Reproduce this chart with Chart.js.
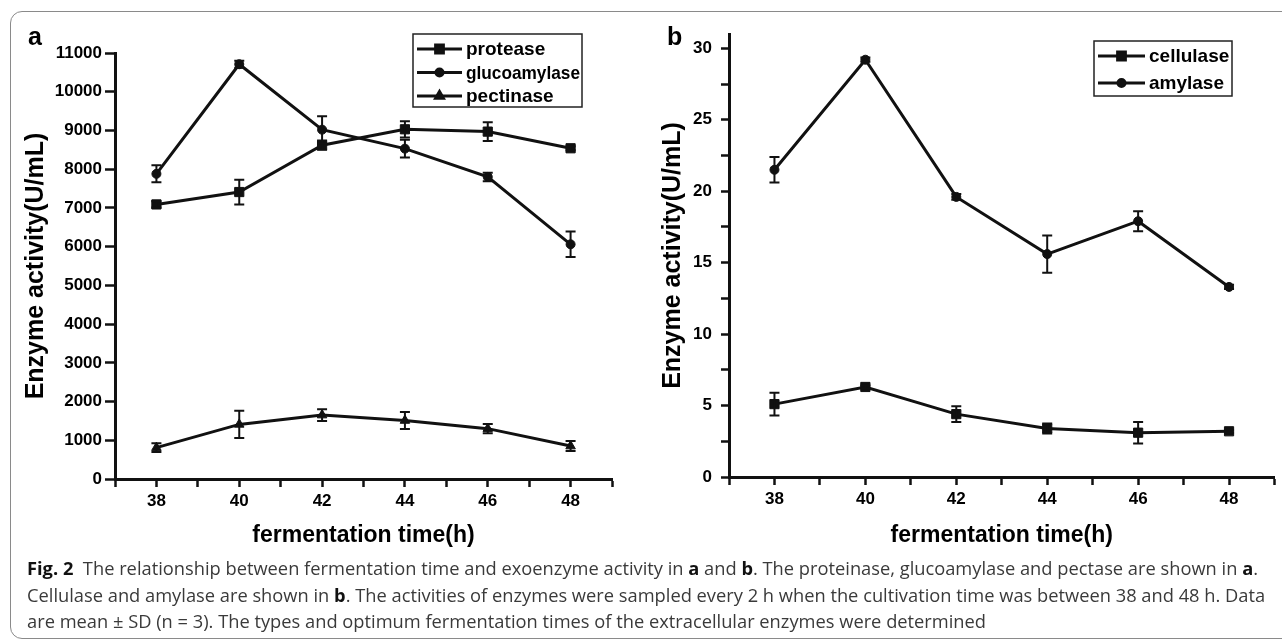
<!DOCTYPE html>
<html>
<head>
<meta charset="utf-8">
<script src="https://cdn.jsdelivr.net/npm/chart.js@4.4.1/dist/chart.umd.min.js"></script>
<style>
  html, body { margin: 0; padding: 0; background: #fff; overflow: hidden; width: 1282px; height: 641px; }
  #frame { position: absolute; left: 10px; top: 11px; width: 1300px; height: 626px; border: 1.5px solid #8a8a8a; border-radius: 12px; }
  #chartA { position: absolute; left: 0; top: 0; }
  #chartB { position: absolute; left: 640px; top: 0; }
  .panel { position: absolute; font: bold 25px "Liberation Sans", Arial, sans-serif; color: #000; }
  #caption { position: absolute; left: 27px; top: 555px; font: 18.3px "Open Sans", sans-serif; color: #3a3a3a; line-height: 26.5px; white-space: nowrap; }
  #caption b { color: #111; }
</style>
</head>
<body>
<div id="frame"></div>
<canvas id="chartA" width="640" height="560"></canvas>
<canvas id="chartB" width="642" height="560"></canvas>
<div class="panel" style="left:28px; top:22px;">a</div>
<div class="panel" style="left:667px; top:22px;">b</div>
<div id="caption"><b>Fig. 2</b>&nbsp; The relationship between fermentation time and exoenzyme activity in <b>a</b> and <b>b</b>. The proteinase, glucoamylase and pectase are shown in <b>a</b>.<br>Cellulase and amylase are shown in <b>b</b>. The activities of enzymes were sampled every 2 h when the cultivation time was between 38 and 48 h. Data<br>are mean ± SD (n = 3). The types and optimum fermentation times of the extracellular enzymes were determined</div>

<script>
// sampling times (h)
const hours = [38, 40, 42, 44, 46, 48];

// panel a (U/mL)
const protease = [7090, 7410, 8620, 9030, 8970, 8540];
const proteaseSD = [80, 320, 120, 210, 240, 50];
const glucoamylase = [7880, 10710, 9020, 8530, 7800, 6060];
const glucoamylaseSD = [220, 90, 350, 230, 110, 330];
const pectinase = [810, 1410, 1650, 1510, 1300, 850];
const pectinaseSD = [110, 350, 150, 220, 120, 130];

// panel b (U/mL)
const cellulase = [5.1, 6.3, 4.4, 3.4, 3.1, 3.2];
const cellulaseSD = [0.8, 0.1, 0.55, 0.35, 0.75, 0.1];
const amylase = [21.5, 29.2, 19.6, 15.6, 17.9, 13.3];
const amylaseSD = [0.9, 0.15, 0.2, 1.3, 0.7, 0.15];

// axis ticks
const xTicks = [37, 38, 39, 40, 41, 42, 43, 44, 45, 46, 47, 48, 49];
const xTickLabels = ['', '38', '', '40', '', '42', '', '44', '', '46', '', '48', ''];
const yTicksA = [0, 1000, 2000, 3000, 4000, 5000, 6000, 7000, 8000, 9000, 10000, 11000];
const yTickLabelsA = ['0', '1000', '2000', '3000', '4000', '5000', '6000', '7000', '8000', '9000', '10000', '11000'];
const yTicksB = [0, 2.5, 5, 7.5, 10, 12.5, 15, 17.5, 20, 22.5, 25, 27.5, 30];
const yTickLabelsB = ['0', '', '5', '', '10', '', '15', '', '20', '', '25', '', '30'];

const INK = '#111';
Chart.defaults.font.family = '"Liberation Sans", Arial, sans-serif';
Chart.defaults.color = '#000';

function toPoints(ys) {
    return hours.map((h, i) => ({ x: h, y: ys[i] }));
}

function series(label, ys, sd, style, radius) {
    return {
        label: label,
        data: toPoints(ys),
        sd: sd,
        borderColor: INK,
        backgroundColor: INK,
        borderWidth: 3,
        pointStyle: style,
        pointRadius: radius,
        pointBorderWidth: 1,
        tension: 0
    };
}

// error bars drawn with the chart's own scales
const errorBars = {
    id: 'errorBars',
    afterDatasetsDraw(chart) {
        const { ctx, scales: { x, y } } = chart;
        ctx.save();
        ctx.strokeStyle = INK;
        ctx.lineWidth = 2;
        chart.data.datasets.forEach(ds => {
            ds.data.forEach((p, i) => {
                const px = x.getPixelForValue(p.x);
                const top = y.getPixelForValue(p.y + ds.sd[i]);
                const bot = y.getPixelForValue(p.y - ds.sd[i]);
                ctx.beginPath();
                ctx.moveTo(px, top); ctx.lineTo(px, bot);
                ctx.moveTo(px - 5, top); ctx.lineTo(px + 5, top);
                ctx.moveTo(px - 5, bot); ctx.lineTo(px + 5, bot);
                ctx.stroke();
            });
        });
        ctx.restore();
    }
};

// boxed legend in the plot, Origin style
const boxLegend = {
    id: 'boxLegend',
    afterDraw(chart, args, opts) {
        const ctx = chart.ctx;
        ctx.save();
        ctx.strokeStyle = '#222';
        ctx.lineWidth = 1.5;
        ctx.strokeRect(opts.left, opts.top, opts.width, opts.height);
        ctx.font = 'bold 19px "Liberation Sans", Arial, sans-serif';
        ctx.textBaseline = 'middle';
        const textX = opts.left + opts.sample + 8;
        const maxW = opts.left + opts.width - textX - 2;
        chart.data.datasets.forEach((ds, i) => {
            const yy = opts.top + opts.firstRow + i * opts.rowGap;
            ctx.strokeStyle = INK;
            ctx.lineWidth = 3;
            ctx.beginPath();
            ctx.moveTo(opts.left + 4, yy);
            ctx.lineTo(opts.left + 4 + opts.sample, yy);
            ctx.stroke();
            ctx.fillStyle = INK;
            Chart.helpers.drawPoint(ctx, { pointStyle: ds.pointStyle, radius: ds.pointRadius - 1, borderWidth: 1 }, opts.left + 4 + opts.sample / 2, yy);
            ctx.fill();
            ctx.fillStyle = '#000';
            ctx.fillText(ds.label, textX, yy + 1, maxW);
        });
        ctx.restore();
    }
};

function xScale(h) {
    return {
        type: 'linear',
        min: 37,
        max: 49,
        afterBuildTicks: s => { s.ticks = xTicks.map(v => ({ value: v })); },
        afterFit: s => { s.height = h; },
        border: { display: true, color: INK, width: 3 },
        grid: { display: true, drawOnChartArea: false, tickLength: 8, tickWidth: 2.5, tickColor: INK },
        ticks: {
            autoSkip: false, maxRotation: 0, padding: 4,
            font: { size: 17, weight: 'bold' },
            callback: (v, i) => xTickLabels[i]
        },
        title: {
            display: true, text: 'fermentation time(h)',
            font: { size: 23, weight: 'bold' },
            padding: { top: 0, bottom: 11 }
        }
    };
}

function yScale(max, ticks, labels, w, tickLen, pad, titlePad) {
    return {
        type: 'linear',
        min: 0,
        max: max,
        afterBuildTicks: s => { s.ticks = ticks.map(v => ({ value: v })); },
        afterFit: s => { s.width = w; },
        border: { display: true, color: INK, width: 3 },
        grid: { display: true, drawOnChartArea: false, tickLength: tickLen, tickWidth: 2.5, tickColor: INK },
        ticks: {
            autoSkip: false, padding: pad,
            font: { size: 17, weight: 'bold' },
            callback: (v, i) => labels[i]
        },
        title: {
            display: true, text: 'Enzyme activity(U/mL)',
            font: { size: 25, weight: 'bold' },
            padding: { top: titlePad, bottom: 0 }
        }
    };
}

const chartA = new Chart(document.getElementById('chartA'), {
    type: 'line',
    data: {
        datasets: [
            series('protease', protease, proteaseSD, 'rect', 6.5),
            series('glucoamylase', glucoamylase, glucoamylaseSD, 'circle', 4.5),
            series('pectinase', pectinase, pectinaseSD, 'triangle', 5.5)
        ]
    },
    options: {
        responsive: false,
        animation: false,
        layout: { padding: { top: 53, right: 28, left: 0, bottom: 0 } },
        plugins: {
            legend: { display: false },
            tooltip: { enabled: false },
            boxLegend: { left: 413, top: 34, width: 169, height: 73, firstRow: 15, rowGap: 23.5, sample: 45 }
        },
        scales: {
            x: xScale(81),
            y: yScale(11000, yTicksA, yTickLabelsA, 115, 10, 3, 21)
        }
    },
    plugins: [errorBars, boxLegend]
});

const chartB = new Chart(document.getElementById('chartB'), {
    type: 'line',
    data: {
        datasets: [
            series('cellulase', cellulase, cellulaseSD, 'rect', 6.5),
            series('amylase', amylase, amylaseSD, 'circle', 4.5)
        ]
    },
    options: {
        responsive: false,
        animation: false,
        layout: { padding: { top: 34, right: 3, left: 0, bottom: 0 } },
        plugins: {
            legend: { display: false },
            tooltip: { enabled: false },
            boxLegend: { left: 454, top: 41, width: 138, height: 55, firstRow: 15, rowGap: 27, sample: 47 }
        },
        scales: {
            x: xScale(83),
            y: yScale(31, yTicksB, yTickLabelsB, 89, 8, 9, 18)
        }
    },
    plugins: [errorBars, boxLegend]
});
</script>
</body>
</html>
